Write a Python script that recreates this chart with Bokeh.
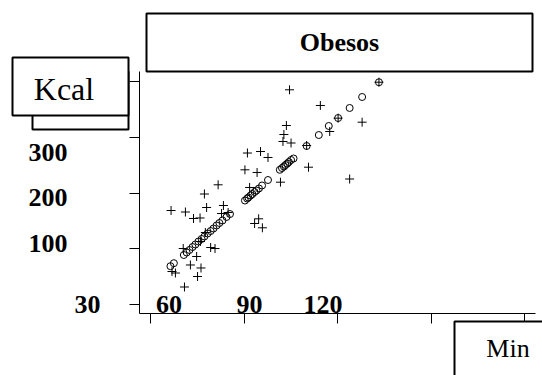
from bokeh.plotting import figure
from bokeh.models import ColumnDataSource, FixedTicker, BoxAnnotation, LabelSet, Range1d, LinearAxis
from bokeh.core.properties import value
from bokeh.embed import file_html
from bokeh.resources import INLINE

# ---------------- data ----------------
obs_min = [66.6, 71.2, 73.8, 75.9, 77.3, 78.0, 81.7, 83.4, 82.8, 84.9,
           66.9, 68.0, 70.9, 72.8, 74.8, 75.1, 76.2, 70.5, 79.3, 80.7,
           76.0, 77.6, 90.3, 94.2, 91.1, 95.3, 97.7, 101.7, 91.8, 94.7,
           93.4, 95.9, 102.8, 102.5, 105.1, 103.6, 104.6, 110.1, 110.7, 114.5,
           120.2, 117.5, 127.9, 123.9, 133.3]
obs_kcal = [168.6, 165.9, 154.3, 155.2, 198.2, 174.0, 214.7, 177.6, 163.2, 165.0,
            59.2, 56.5, 31.4, 70.9, 86.1, 50.2, 65.5, 100.4, 102.2, 100.4,
            113.0, 129.1, 241.6, 236.8, 271.7, 274.4, 263.7, 219.4, 209.9, 153.7,
            145.3, 137.6, 304.9, 292.4, 289.7, 321.1, 385.1, 285.2, 246.3, 357.0,
            334.2, 310.3, 327.0, 225.1, 398.7]
fit_min = [66.4, 67.5, 70.7, 71.6, 72.5, 73.5, 74.4, 75.4, 76.4, 77.3,
           78.3, 79.3, 80.2, 81.2, 82.1, 83.1, 84.4, 85.5, 90.3, 91.0,
           91.4, 92.1, 92.7, 93.4, 94.0, 94.8, 95.8, 97.7, 101.5, 102.2,
           102.8, 103.3, 103.9, 104.4, 105.1, 105.9, 110.1, 114.0, 117.2, 120.2,
           123.9, 127.9, 133.3]
fit_kcal = [68.7, 74.1, 88.8, 93.3, 97.8, 103.1, 107.6, 113.0, 117.5, 122.0,
            127.4, 131.8, 136.3, 141.7, 146.2, 150.7, 157.0, 162.3, 186.5, 190.1,
            191.9, 195.5, 198.2, 201.8, 204.5, 208.1, 213.5, 223.3, 241.6, 244.8,
            247.5, 250.2, 252.9, 255.6, 259.2, 261.9, 284.3, 304.0, 320.2, 334.5,
            352.5, 372.2, 398.7]
x_ticks = [60, 90, 120, 150, 180]
y_ticks = [0, 100, 200, 300, 400]
x_tick_labels = ["60", "90", "120"]
y_tick_labels = ["300", "200", "100", "30"]
title_text = "Obesos"
y_title = "Kcal"
x_title = "Min"

# ---------------- geometry ----------------
W, H = 542, 375
KX = 93.5 / 30.0      # px per minute
KY = 55.75 / 100.0    # px per kcal
XS = 60 - 150 / KX


def X(px):  # canvas pixel -> data x
    return XS + px / KX


def Y(py):  # canvas pixel -> data y
    return (304 - py) / KY


FONT = "Liberation Serif"

p = figure(width=W, height=H, min_border=0,
           x_range=Range1d(X(0), X(W)), y_range=Range1d(Y(H), Y(0)),
           output_backend="svg", toolbar_location=None,
           background_fill_color="white", border_fill_color="white",
           outline_line_color=None, x_axis_type=None, y_axis_type=None)
p.xgrid.visible = False
p.ygrid.visible = False

xaxis = LinearAxis(ticker=FixedTicker(ticks=x_ticks), fixed_location=Y(313),
                   bounds=(X(139), X(535)))
yaxis = LinearAxis(ticker=FixedTicker(ticks=y_ticks), fixed_location=X(139),
                   bounds=(Y(313), Y(71)))
xaxis.major_label_overrides = {t: "" for t in x_ticks}
yaxis.major_label_overrides = {t: "" for t in y_ticks}
for ax in (xaxis, yaxis):
    ax.major_tick_in = 0
    ax.major_tick_out = 10
    ax.minor_tick_line_color = None
    ax.axis_line_color = "black"
    ax.major_tick_line_color = "black"
    ax.axis_line_width = 1
    ax.major_tick_line_width = 1
    ax.major_label_standoff = 0
p.add_layout(xaxis, "below")
p.add_layout(yaxis, "left")

p.scatter(fit_min, fit_kcal, marker="circle", size=7, fill_color=None,
          line_color="black", line_width=1)
p.scatter(obs_min, obs_kcal, marker="cross", size=9,
          line_color="black", line_width=1)


def box(l, r, t, b):
    return BoxAnnotation(left=X(l), right=X(r), top=Y(t), bottom=Y(b),
                         fill_color="white", fill_alpha=1.0,
                         line_color="black", line_width=2, line_alpha=1.0)


p.add_layout(box(146, 532, 13, 71))
p.add_layout(box(32, 128, 71, 129))
p.add_layout(box(12, 128, 57, 115))
p.add_layout(box(454, 620, 321, 440))


def labels(xs, ys, texts, align, size, bold):
    src = ColumnDataSource(dict(x=xs, y=ys, text=texts))
    return LabelSet(x="x", y="y", text="text", source=src,
                    text_align=align, text_baseline="alphabetic",
                    text_font=value(FONT),
                    text_font_style="bold" if bold else "normal",
                    text_font_size=size, text_color="black")


p.add_layout(labels([X(339)], [Y(50)], [title_text], "center", "26px", True))
p.add_layout(labels([X(63.5)], [Y(99)], [y_title], "center", "32px", False))
p.add_layout(labels([X(507.5)], [Y(356)], [x_title], "center", "26px", False))
p.add_layout(labels([X(168.5), X(249), X(322.5)], [Y(312.5)] * 3,
                    x_tick_labels, "center", "26px", True))
p.add_layout(labels([X(67), X(67), X(67), X(100)],
                    [Y(160.5), Y(205.5), Y(251.5), Y(312.5)],
                    y_tick_labels, "right", "26px", True))

open("out.html", "w").write(file_html(p, INLINE))
